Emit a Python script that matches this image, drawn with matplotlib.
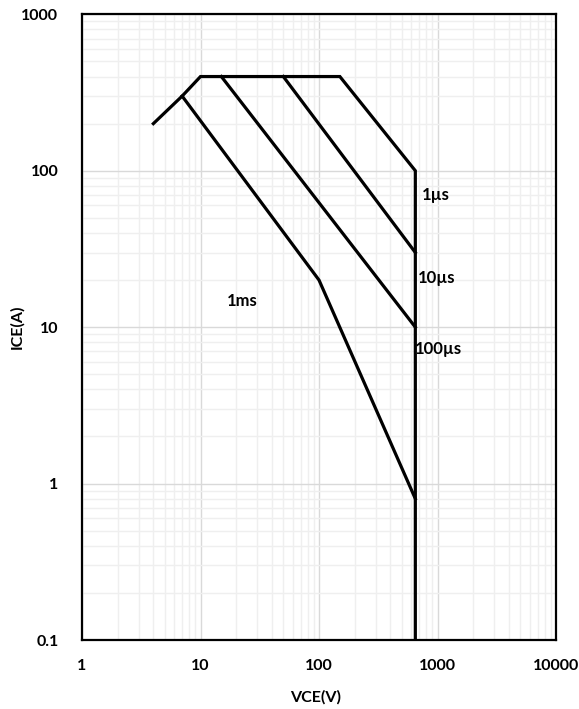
import matplotlib
matplotlib.use("Agg")
import matplotlib.pyplot as plt
from matplotlib.ticker import LogLocator, FixedLocator, FixedFormatter, NullFormatter

plt.rcParams['font.family'] = ['Lato', 'DejaVu Sans']

# Safe operating area curves (VCE in V, ICE in A)
vce_1us = [4, 7, 10, 150, 650, 650]
ice_1us = [200, 300, 400, 400, 100, 0.1]
vce_10us = [50, 650]
ice_10us = [400, 30]
vce_100us = [15, 650]
ice_100us = [400, 10]
vce_1ms = [7, 100, 650]
ice_1ms = [300, 20, 0.8]

curve_labels = ["1µs", "10µs", "100µs", "1ms"]
label_x = [740, 680, 650, 16.6]
label_y = [70, 20.5, 7.2, 14.6]

x_ticks = [1, 10, 100, 1000, 10000]
x_ticklabels = ["1", "10", "100", "1000", "10000"]
y_ticks = [0.1, 1, 10, 100, 1000]
y_ticklabels = ["0.1", "1", "10", "100", "1000"]

fig = plt.figure(figsize=(5.79, 7.09), dpi=100)
ax = fig.add_axes([82/579, 1 - 640/709, (556-82)/579, (640-14.3)/709])
ax.set_xscale('log')
ax.set_yscale('log')
ax.set_xlim(1, 10000)
ax.set_ylim(0.1, 1000)

ax.xaxis.set_major_locator(FixedLocator(x_ticks))
ax.xaxis.set_major_formatter(FixedFormatter(x_ticklabels))
ax.yaxis.set_major_locator(FixedLocator(y_ticks))
ax.yaxis.set_major_formatter(FixedFormatter(y_ticklabels))
ax.xaxis.set_minor_locator(LogLocator(base=10, subs=range(2, 10)))
ax.yaxis.set_minor_locator(LogLocator(base=10, subs=range(2, 10)))
ax.xaxis.set_minor_formatter(NullFormatter())
ax.yaxis.set_minor_formatter(NullFormatter())

ax.grid(which='major', color='#d9d9d9', linewidth=1.0, zorder=0)
ax.grid(which='minor', color='#efefef', linewidth=1.0, zorder=0)
ax.set_axisbelow(True)
ax.tick_params(which='both', length=0)
ax.tick_params(axis='x', pad=14)
ax.tick_params(axis='y', pad=17)
for lab in ax.get_xticklabels() + ax.get_yticklabels():
    lab.set_fontweight('bold')
    lab.set_fontsize(11.5)

for s in ax.spines.values():
    s.set_linewidth(1.6)
    s.set_color('black')

lw = 2.3
ax.plot(vce_1us, ice_1us, color='black', lw=lw, solid_joinstyle='miter', zorder=3)
ax.plot(vce_10us, ice_10us, color='black', lw=lw, zorder=3)
ax.plot(vce_100us, ice_100us, color='black', lw=lw, zorder=3)
ax.plot(vce_1ms, ice_1ms, color='black', lw=lw, solid_joinstyle='miter', zorder=3)

for t, x, y in zip(curve_labels, label_x, label_y):
    ax.text(x, y, t, fontsize=12, fontweight='bold', ha='left', va='center', zorder=4)

fig.text(316/579, 1 - 697/709, "VCE(V)", fontsize=11.5, fontweight='bold', ha='center', va='center')
fig.text(17/579, 1 - 327/709, "ICE(A)", fontsize=11.5, fontweight='bold', ha='center', va='center', rotation=90)

fig.savefig("out.png", dpi=100)
